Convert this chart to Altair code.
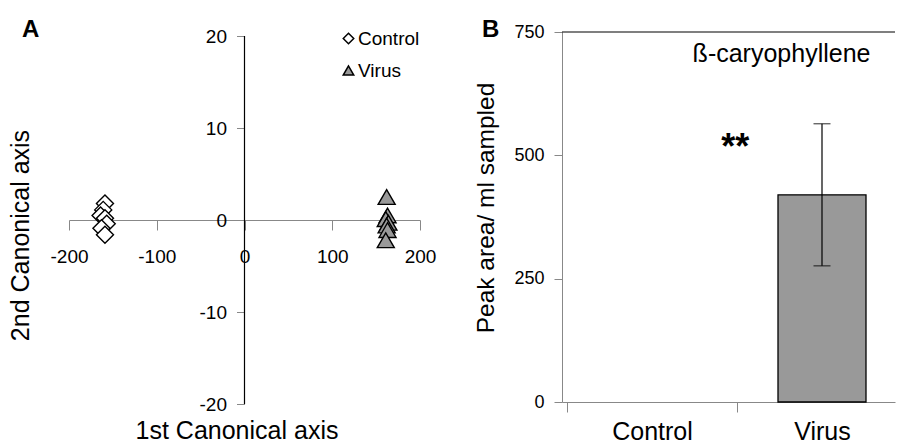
import altair as alt
import pandas as pd

# ---------------- data ----------------
groups = ["Control", "Virus"]
control_x = [-159, -161, -164, -159, -157, -163, -159]
control_y = [1.8, 1.1, 0.5, 0.2, -0.4, -0.9, -1.6]
virus_x = [162, 163, 161, 164, 162, 163, 161]
virus_y = [2.5, 0.5, 0.1, -0.3, -0.6, -1.1, -2.2]

x_ticks_a = [-200, -100, 0, 100, 200]
y_ticks_a = [-20, -10, 0, 10, 20]

bar_categories = ["Control", "Virus"]
bar_means = [0, 420]
bar_err = [0, 144]
y_ticks_b = [0, 250, 500, 750]

compound = "ß-caryophyllene"
signif = "**"

FONT = "Liberation Sans"
NOVIEW = alt.ViewBackground(stroke="transparent", strokeWidth=0, fill="white")

# ---------------- panel A ----------------
df_a = pd.DataFrame({
    "x": control_x + virus_x,
    "y": control_y + virus_y,
    "group": [groups[0]] * len(control_x) + [groups[1]] * len(virus_x),
})

W_A, H_A = 351, 372
xs_a = alt.Scale(domain=[-200, 200], nice=False, zero=False)
ys_a = alt.Scale(domain=[-20, 20 + 4 / 9.2], nice=False, zero=False)

x_axis_a = alt.Axis(values=x_ticks_a, offset=-184, tickSize=10, labelPadding=17,
                    labelExpr="toString(datum.value)",
                    labelFontSize=19, labelFlush=False, labelOverlap=False, grid=False,
                    title="1st Canonical axis", titleFontSize=25, titleFontWeight="normal",
                    titleX=167.5, titleY=218, titleAlign="center", titleBaseline="alphabetic")
y_axis_a = alt.Axis(values=y_ticks_a, offset=-175.5, domain=False, tickSize=8, labelPadding=10,
                    labelExpr="toString(datum.value)",
                    labelFontSize=19, labelFlush=False, labelOverlap=False, grid=False,
                    title="2nd Canonical axis", titleFontSize=25, titleFontWeight="normal",
                    titleAngle=270, titleX=-224, titleY=203, titleAlign="center",
                    titleBaseline="middle")

leg = alt.Legend(orient="none", legendX=270, legendY=-3, title=None, labelFontSize=19,
                 symbolSize=110, rowPadding=12, labelOffset=0,
                 symbolStrokeWidth=1.5, labelColor="black", labelFont=FONT)

pts = alt.Chart(df_a).mark_point(filled=True, size=290, strokeWidth=1.4, opacity=1).encode(
    x=alt.X("x:Q", scale=xs_a, axis=x_axis_a),
    y=alt.Y("y:Q", scale=ys_a, axis=y_axis_a),
    shape=alt.Shape("group:N", scale=alt.Scale(domain=groups, range=["diamond", "triangle-up"]),
                    legend=leg),
    fill=alt.Fill("group:N", scale=alt.Scale(domain=groups, range=["white", "#999999"]),
                  legend=leg),
    stroke=alt.Stroke("group:N", scale=alt.Scale(domain=groups, range=["black", "black"]),
                      legend=leg),
)

yline = alt.Chart(pd.DataFrame({"x": [0], "y0": [y_ticks_a[0]], "y1": [y_ticks_a[-1]]})).mark_rule(
    color="black", strokeWidth=1.2).encode(
    x=alt.X("x:Q", scale=xs_a, axis=x_axis_a),
    y=alt.Y("y0:Q", scale=ys_a, axis=y_axis_a),
    y2="y1:Q",
)

label_a = alt.Chart(pd.DataFrame({"t": ["A"]})).mark_text(
    fontSize=24, fontWeight="bold", align="left", baseline="top", font=FONT, color="black").encode(
    x=alt.value(-47), y=alt.value(-14), text="t:N")

panel_a = alt.layer(yline, pts, label_a).properties(width=W_A, height=H_A, view=NOVIEW)

# ---------------- panel B ----------------
pos = [i + 0.5 for i in range(len(bar_categories))]
df_b = pd.DataFrame({
    "cat": bar_categories,
    "pos": pos,
    "mean": bar_means,
    "low": [m - e for m, e in zip(bar_means, bar_err)],
    "high": [m + e for m, e in zip(bar_means, bar_err)],
})

W_B, H_B = 333, 370
xs_b = alt.Scale(domain=[0, 1.9], nice=False, zero=False)
ys_b = alt.Scale(domain=[0, 750], nice=False)

label_expr = " : ".join(
    f"datum.value == {p} ? '{c}'" for p, c in zip(pos, bar_categories)) + " : ''"
tick_test = " || ".join(f"datum.value == {p}" for p in pos)

x_axis_b = alt.Axis(values=[0, 1] + pos, labelExpr=label_expr,
                    tickOpacity={"condition": {"test": tick_test, "value": 0}, "value": 1},
                    tickSize=10, labelPadding=7, labelFontSize=25, labelBaseline="top",
                    labelFlush=False, labelOverlap=False, grid=False, title=None)
y_axis_b = alt.Axis(values=y_ticks_b, tickSize=8, labelPadding=10, labelFontSize=18,
                    labelFlush=False, grid=False,
                    title="Peak area/ ml sampled", titleFontSize=24.5, titleFontWeight="normal",
                    titleAngle=270, titleX=-76, titleY=175.5, titleAlign="center",
                    titleBaseline="middle")

base_b = alt.Chart(df_b)
bars = base_b.mark_bar(size=88, fill="#999999", stroke="black", strokeWidth=1.3).encode(
    x=alt.X("pos:Q", scale=xs_b, axis=x_axis_b),
    y=alt.Y("mean:Q", scale=ys_b, axis=y_axis_b),
    opacity=alt.condition("datum.mean > 0", alt.value(1), alt.value(0)),
)

err_base = base_b.transform_filter("datum.high > datum.low")
err_rule = err_base.mark_rule(color="black", strokeWidth=1.2).encode(
    x=alt.X("pos:Q", scale=xs_b, axis=x_axis_b), y=alt.Y("low:Q", scale=ys_b, axis=y_axis_b),
    y2="high:Q")
err_lo = err_base.mark_tick(orient="horizontal", size=17, thickness=1.2, color="black").encode(
    x=alt.X("pos:Q", scale=xs_b, axis=x_axis_b), y=alt.Y("low:Q", scale=ys_b, axis=y_axis_b))
err_hi = err_base.mark_tick(orient="horizontal", size=17, thickness=1.2, color="black").encode(
    x=alt.X("pos:Q", scale=xs_b, axis=x_axis_b), y=alt.Y("high:Q", scale=ys_b, axis=y_axis_b))

top_line = alt.Chart(pd.DataFrame({"v": [y_ticks_b[-1]]})).mark_rule(
    color="black", strokeWidth=1.2).encode(y=alt.Y("v:Q", scale=ys_b, axis=y_axis_b))

stars = alt.Chart(pd.DataFrame({"x": [0.99], "y": [493], "t": [signif]})).mark_text(
    fontSize=36, fontWeight="bold", baseline="alphabetic", font=FONT, color="black").encode(
    x=alt.X("x:Q", scale=xs_b, axis=x_axis_b), y=alt.Y("y:Q", scale=ys_b, axis=y_axis_b),
    text="t:N")

comp = alt.Chart(pd.DataFrame({"x": [1.262], "y": [689], "t": [compound]})).mark_text(
    fontSize=25, baseline="alphabetic", font=FONT, color="black").encode(
    x=alt.X("x:Q", scale=xs_b, axis=x_axis_b), y=alt.Y("y:Q", scale=ys_b, axis=y_axis_b),
    text="t:N")

label_b = alt.Chart(pd.DataFrame({"t": ["B"]})).mark_text(
    fontSize=24, fontWeight="bold", align="left", baseline="top", font=FONT, color="black").encode(
    x=alt.value(-80), y=alt.value(-14), text="t:N")

panel_b = alt.layer(top_line, bars, err_rule, err_lo, err_hi, stars, comp, label_b).properties(
    width=W_B, height=H_B, view=NOVIEW)

chart = alt.hconcat(panel_a, panel_b, spacing=142, bounds="flush").properties(
    padding={"left": 0, "top": 10, "right": 0, "bottom": 0}
).configure_view(stroke="transparent", strokeWidth=0).configure_axis(
    domainColor="black", tickColor="black", labelColor="black", titleColor="black",
    labelFont=FONT, titleFont=FONT, domainWidth=1.2, tickWidth=1.2, grid=False
).configure(font=FONT, background="white")

chart.save("out.html", embed_options={"renderer": "svg", "actions": False})
